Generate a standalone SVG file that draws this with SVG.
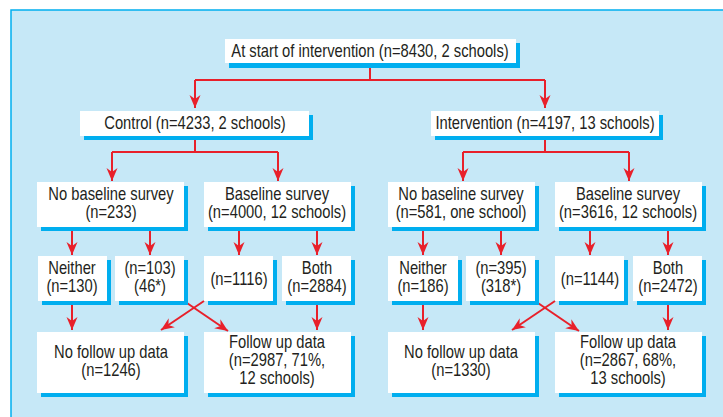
<svg xmlns="http://www.w3.org/2000/svg" width="723" height="417" viewBox="0 0 723 417">
<style>
.bx{fill:#fff}
.sh{fill:#00aeef}
.t{font-family:"Liberation Sans",Arial,sans-serif;font-size:18px;fill:#231f20;text-anchor:middle}
.c{fill:none;stroke:#e8202a;stroke-width:2}
</style>
<defs>
<marker id="ah" viewBox="-13 -6 14 12" markerWidth="14" markerHeight="12" refX="0" refY="0" orient="auto" markerUnits="userSpaceOnUse">
<path d="M0,0 L-13,-5.5 L-9,0 L-13,5.5 Z" fill="#e8202a"/>
</marker>
</defs>
<rect x="0" y="0" width="723" height="417" fill="#fff"/>
<rect x="11" y="10" width="720" height="420" fill="#c6e8f7" stroke="#00aeef" stroke-width="1.5"/>

<g id="connectors" class="c">
<path d="M370,63 V80 M195,80 H545"/>
<path d="M195,80 V108" marker-end="url(#ah)"/>
<path d="M545,80 V108" marker-end="url(#ah)"/>
<path d="M195,136 V152 M112,152 H278"/>
<path d="M112,152 V181" marker-end="url(#ah)"/>
<path d="M278,152 V181" marker-end="url(#ah)"/>
<path d="M545,136 V152 M463,152 H629"/>
<path d="M463,152 V181" marker-end="url(#ah)"/>
<path d="M629,152 V181" marker-end="url(#ah)"/>
<path d="M72,227 V255" marker-end="url(#ah)"/>
<path d="M150,227 V255" marker-end="url(#ah)"/>
<path d="M239,227 V255" marker-end="url(#ah)"/>
<path d="M317,227 V255" marker-end="url(#ah)"/>
<path d="M423,227 V255" marker-end="url(#ah)"/>
<path d="M501,227 V255" marker-end="url(#ah)"/>
<path d="M590,227 V255" marker-end="url(#ah)"/>
<path d="M668,227 V255" marker-end="url(#ah)"/>
<path d="M72,301 V330" marker-end="url(#ah)"/>
<path d="M317,301 V330" marker-end="url(#ah)"/>
<path d="M184,301 L228,331" marker-end="url(#ah)"/>
<path d="M204,301 L161,330" marker-end="url(#ah)"/>
<path d="M423,301 V330" marker-end="url(#ah)"/>
<path d="M668,301 V330" marker-end="url(#ah)"/>
<path d="M535,301 L579,331" marker-end="url(#ah)"/>
<path d="M555,301 L512,330" marker-end="url(#ah)"/>
</g>

<g id="start">
<rect class="sh" x="229" y="43" width="291" height="25"/>
<rect class="bx" x="225" y="39" width="291" height="24"/>
<text class="t" transform="matrix(0.82,0,0,1,370,57)">At start of intervention (n=8430, 2 schools)</text>
</g>

<g id="control">
<rect class="sh" x="84" y="115" width="229" height="25"/>
<rect class="bx" x="80" y="111" width="229" height="25"/>
<text class="t" transform="matrix(0.82,0,0,1,195,129)">Control (n=4233, 2 schools)</text>
</g>
<g id="intervention">
<rect class="sh" x="435" y="115" width="228" height="25"/>
<rect class="bx" x="431" y="111" width="228" height="25"/>
<text class="t" transform="matrix(0.82,0,0,1,545,129)">Intervention (n=4197, 13 schools)</text>
</g>

<g id="c_nobase">
<rect class="sh" x="41" y="186" width="147" height="45"/>
<rect class="bx" x="37" y="182" width="147" height="45"/>
<text class="t" transform="matrix(0.82,0,0,1,111,200)">No baseline survey</text>
<text class="t" transform="matrix(0.82,0,0,1,111,218)">(n=233)</text>
</g>
<g id="c_base">
<rect class="sh" x="208" y="186" width="147" height="45"/>
<rect class="bx" x="204" y="182" width="147" height="45"/>
<text class="t" transform="matrix(0.82,0,0,1,277,200)">Baseline survey</text>
<text class="t" transform="matrix(0.82,0,0,1,277,218)">(n=4000, 12 schools)</text>
</g>
<g id="i_nobase">
<rect class="sh" x="392" y="186" width="147" height="45"/>
<rect class="bx" x="388" y="182" width="147" height="45"/>
<text class="t" transform="matrix(0.82,0,0,1,461,200)">No baseline survey</text>
<text class="t" transform="matrix(0.82,0,0,1,461,218)">(n=581, one school)</text>
</g>
<g id="i_base">
<rect class="sh" x="559" y="186" width="147" height="45"/>
<rect class="bx" x="555" y="182" width="147" height="45"/>
<text class="t" transform="matrix(0.82,0,0,1,628,200)">Baseline survey</text>
<text class="t" transform="matrix(0.82,0,0,1,628,218)">(n=3616, 12 schools)</text>
</g>

<g id="c_neither">
<rect class="sh" x="42" y="260" width="69" height="45"/>
<rect class="bx" x="38" y="256" width="69" height="45"/>
<text class="t" transform="matrix(0.82,0,0,1,72,274)">Neither</text>
<text class="t" transform="matrix(0.82,0,0,1,72,292)">(n=130)</text>
</g>
<g id="c_103">
<rect class="sh" x="119" y="260" width="69" height="45"/>
<rect class="bx" x="115" y="256" width="69" height="45"/>
<text class="t" transform="matrix(0.82,0,0,1,150,274)">(n=103)</text>
<text class="t" transform="matrix(0.82,0,0,1,150,292)">(46*)</text>
</g>
<g id="c_1116">
<rect class="sh" x="208" y="260" width="69" height="45"/>
<rect class="bx" x="204" y="256" width="69" height="45"/>
<text class="t" transform="matrix(0.82,0,0,1,239,285)">(n=1116)</text>
</g>
<g id="c_both">
<rect class="sh" x="286" y="260" width="69" height="45"/>
<rect class="bx" x="282" y="256" width="69" height="45"/>
<text class="t" transform="matrix(0.82,0,0,1,317,274)">Both</text>
<text class="t" transform="matrix(0.82,0,0,1,317,292)">(n=2884)</text>
</g>
<g id="i_neither">
<rect class="sh" x="392" y="260" width="70" height="45"/>
<rect class="bx" x="388" y="256" width="70" height="45"/>
<text class="t" transform="matrix(0.82,0,0,1,423,274)">Neither</text>
<text class="t" transform="matrix(0.82,0,0,1,423,292)">(n=186)</text>
</g>
<g id="i_395">
<rect class="sh" x="470" y="260" width="69" height="45"/>
<rect class="bx" x="466" y="256" width="69" height="45"/>
<text class="t" transform="matrix(0.82,0,0,1,501,274)">(n=395)</text>
<text class="t" transform="matrix(0.82,0,0,1,501,292)">(318*)</text>
</g>
<g id="i_1144">
<rect class="sh" x="559" y="260" width="69" height="45"/>
<rect class="bx" x="555" y="256" width="69" height="45"/>
<text class="t" transform="matrix(0.82,0,0,1,590,285)">(n=1144)</text>
</g>
<g id="i_both">
<rect class="sh" x="637" y="260" width="69" height="45"/>
<rect class="bx" x="633" y="256" width="69" height="45"/>
<text class="t" transform="matrix(0.82,0,0,1,668,274)">Both</text>
<text class="t" transform="matrix(0.82,0,0,1,668,292)">(n=2472)</text>
</g>

<g id="c_nofollow">
<rect class="sh" x="41" y="336" width="147" height="61"/>
<rect class="bx" x="37" y="332" width="147" height="61"/>
<text class="t" transform="matrix(0.82,0,0,1,111,358)">No follow up data</text>
<text class="t" transform="matrix(0.82,0,0,1,111,376)">(n=1246)</text>
</g>
<g id="c_follow">
<rect class="sh" x="208" y="336" width="147" height="61"/>
<rect class="bx" x="204" y="332" width="147" height="61"/>
<text class="t" transform="matrix(0.82,0,0,1,277,348)">Follow up data</text>
<text class="t" transform="matrix(0.82,0,0,1,277,366)">(n=2987, 71%,</text>
<text class="t" transform="matrix(0.82,0,0,1,277,384)">12 schools)</text>
</g>
<g id="i_nofollow">
<rect class="sh" x="392" y="336" width="147" height="61"/>
<rect class="bx" x="388" y="332" width="147" height="61"/>
<text class="t" transform="matrix(0.82,0,0,1,461,358)">No follow up data</text>
<text class="t" transform="matrix(0.82,0,0,1,461,376)">(n=1330)</text>
</g>
<g id="i_follow">
<rect class="sh" x="559" y="336" width="147" height="61"/>
<rect class="bx" x="555" y="332" width="147" height="61"/>
<text class="t" transform="matrix(0.82,0,0,1,628,348)">Follow up data</text>
<text class="t" transform="matrix(0.82,0,0,1,628,366)">(n=2867, 68%,</text>
<text class="t" transform="matrix(0.82,0,0,1,628,384)">13 schools)</text>
</g>
</svg>
